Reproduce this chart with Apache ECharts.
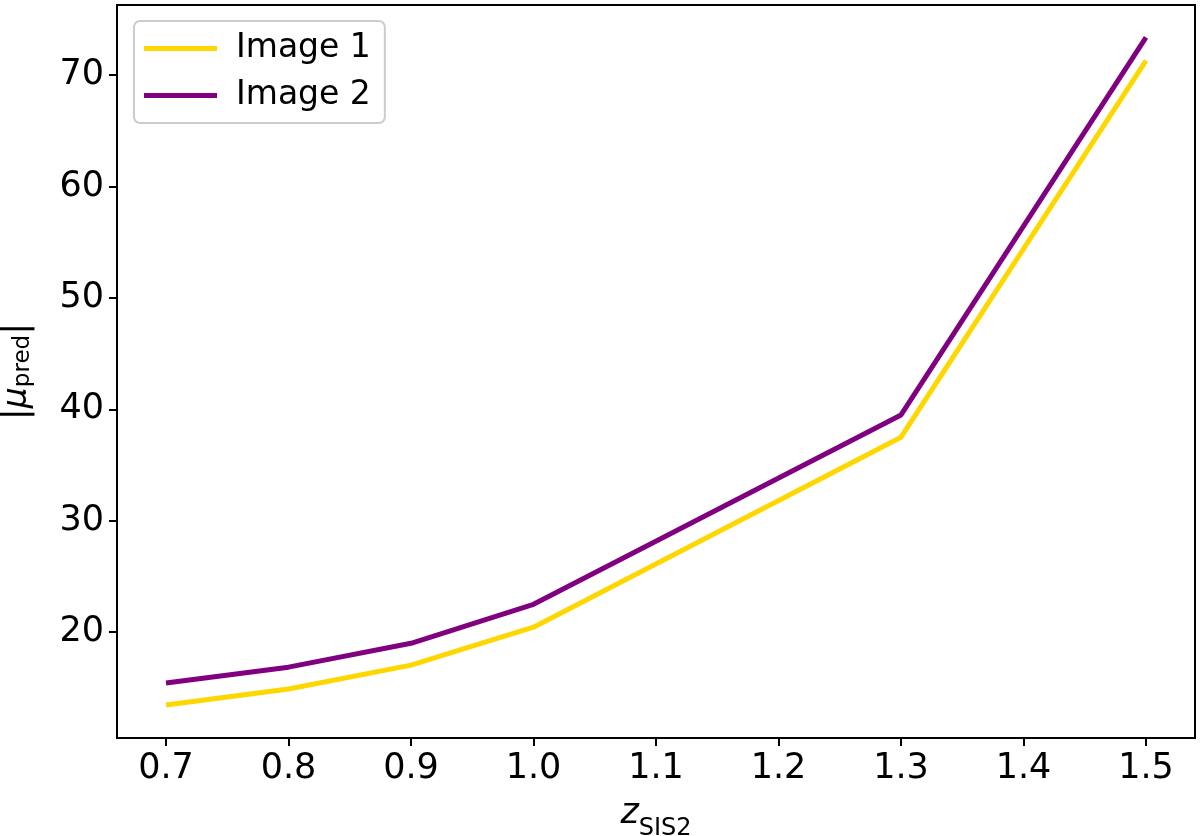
<!DOCTYPE html>
<html>
<head>
<meta charset="utf-8">
<script src="https://cdn.jsdelivr.net/npm/echarts@6/dist/echarts.min.js"></script>
<style>html,body{margin:0;padding:0;background:#fff}#c{width:1200px;height:836px}</style>
</head>
<body>
<div id="c"></div>
<script>
const zValues = [0.7, 0.8, 0.9, 1.0, 1.3, 1.5];
const image1 = [13.46, 14.9, 17.04, 20.45, 37.5, 71.3];
const image2 = [15.43, 16.86, 19.0, 22.5, 39.5, 73.4];
const xTicks = [0.7, 0.8, 0.9, 1.0, 1.1, 1.2, 1.3, 1.4, 1.5];
const yTicks = [20, 30, 40, 50, 60, 70];

const F = 'DejaVu Sans';
const chart = echarts.init(document.getElementById('c'), null, {renderer: 'canvas'});
const pairs = a => zValues.map((x, i) => [x, a[i]]);
chart.setOption({
  animation: false,
  backgroundColor: '#fff',
  grid: {left: 117, right: 5, top: 5, bottom: 98, show: true, borderColor: '#000', borderWidth: 2,
         containLabel: false, outerBoundsMode: 'none'},
  legend: {
    left: 134, top: 21, orient: 'vertical',
    padding: [11, 14, 11, 10],
    itemWidth: 73, itemHeight: 5, itemGap: 14,
    icon: 'rect',
    borderColor: '#cccccc', borderWidth: 2, borderRadius: 6,
    textStyle: {fontFamily: F, fontSize: 33, color: '#000', padding: [0, 0, 0, 14]},
    data: ['Image 1', 'Image 2']
  },
  xAxis: {
    type: 'value', min: 0.66, max: 1.54,
    axisLine: {show: true, lineStyle: {color: '#000', width: 2}},
    axisTick: {show: true, length: 8, lineStyle: {color: '#000', width: 2}, customValues: xTicks},
    axisLabel: {show: true, fontFamily: F, fontSize: 35, color: '#000', margin: 13, customValues: xTicks,
      formatter: v => Number(v).toFixed(1)},
    splitLine: {show: false},
    name: '{z|z}{s|SIS2}',
    nameLocation: 'middle', nameGap: 58,
    nameTextStyle: {rich: {
      z: {fontFamily: F, fontStyle: 'italic', fontSize: 35, color: '#000', verticalAlign: 'bottom'},
      s: {fontFamily: F, fontSize: 24, color: '#000', verticalAlign: 'bottom', padding: [0,0,-10,0]}
    }}
  },
  yAxis: {
    type: 'value', min: 10.5, max: 76.3,
    axisLine: {show: true, lineStyle: {color: '#000', width: 2}},
    axisTick: {show: true, length: 8, lineStyle: {color: '#000', width: 2}, customValues: yTicks},
    axisLabel: {show: true, fontFamily: F, fontSize: 35, color: '#000', margin: 13, customValues: yTicks},
    splitLine: {show: false},
    name: '|{m|μ}{s|pred}|',
    nameLocation: 'middle', nameGap: 82, nameRotate: 90,
    nameTextStyle: {fontFamily: F, fontSize: 36, color: '#000', rich: {
      m: {fontFamily: F, fontStyle: 'italic', fontSize: 33, color: '#000'},
      s: {fontFamily: F, fontSize: 23, color: '#000', padding: [0,0,-12,0]}
    }}
  },
  series: [
    {name: 'Image 1', type: 'line', data: pairs(image1), symbol: 'none', color: '#FFD700',
     lineStyle: {color: '#FFD700', width: 5}},
    {name: 'Image 2', type: 'line', data: pairs(image2), symbol: 'none', color: '#800080',
     lineStyle: {color: '#800080', width: 5}}
  ]
});
</script>
</body>
</html>
